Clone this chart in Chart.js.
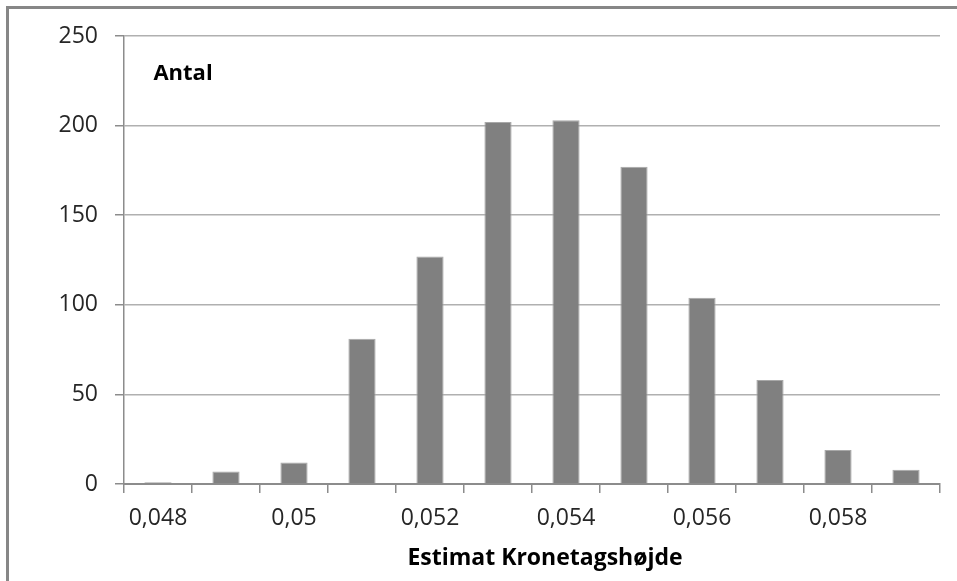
<!DOCTYPE html>
<html>
<head>
<meta charset="utf-8">
<script src="https://cdn.jsdelivr.net/npm/chart.js@4"></script>
<style>
  html, body { margin: 0; padding: 0; background: #ffffff; overflow: hidden; }
  #wrap { position: relative; width: 957px; height: 581px; }
</style>
</head>
<body>
<div id="wrap"><canvas id="c" width="957" height="581"></canvas></div>
<script>
// Data
const categories = ['0,048','0,049','0,05','0,051','0,052','0,053','0,054','0,055','0,056','0,057','0,058','0,059'];
const counts = [1, 7, 12, 81, 127, 202, 203, 177, 104, 58, 19, 8];
const yTicks = [0, 50, 100, 150, 200, 250];
const yAxisLabel = 'Antal';
const xAxisLabel = 'Estimat Kronetagshøjde';

const FONT = '"Open Sans", "Noto Sans", sans-serif';

const decor = {
  id: 'decor',
  beforeDraw(chart) {
    const ctx = chart.ctx;
    ctx.save();
    ctx.fillStyle = '#ffffff';
    ctx.fillRect(0, 0, chart.width, chart.height);
    ctx.strokeStyle = '#878787';
    ctx.lineWidth = 3;
    ctx.strokeRect(7.5, 7.5, 2000, 2000);
    ctx.restore();
  },
  afterDraw(chart) {
    const ctx = chart.ctx;
    const a = chart.chartArea;
    ctx.save();
    ctx.fillStyle = '#000000';
    ctx.textAlign = 'center';
    ctx.textBaseline = 'middle';
    ctx.font = 'bold 22px ' + FONT;
    ctx.fillText(yAxisLabel, a.left + 59, 74);
    ctx.font = 'bold 23px ' + FONT;
    ctx.fillText(xAxisLabel, (a.left + a.right) / 2 + 13, 558);
    ctx.restore();
  }
};

new Chart(document.getElementById('c'), {
  type: 'bar',
  data: {
    labels: categories,
    datasets: [{
      data: counts,
      backgroundColor: '#808080',
      borderColor: '#a8a8a8',
      borderWidth: 1,
      barPercentage: 0.8,
      categoryPercentage: 0.5
    }]
  },
  options: {
    responsive: false,
    animation: false,
    layout: { padding: { left: 0, top: 36, right: 17, bottom: 0 } },
    plugins: { legend: { display: false }, tooltip: { enabled: false }, title: { display: false } },
    scales: {
      x: {
        type: 'category',
        offset: true,
        afterFit(scale) { scale.height = 97; },
        grid: {
          offset: true,
          drawOnChartArea: false,
          drawTicks: true,
          tickLength: 9,
          tickColor: '#8c8c8c',
          lineWidth: 1.5
        },
        border: { display: true, color: '#8c8c8c', width: 2 },
        ticks: {
          autoSkip: false,
          maxRotation: 0,
          minRotation: 0,
          padding: 12,
          color: '#262626',
          font: { family: FONT, size: 23 },
          callback(value, index) { return index % 2 === 0 ? categories[index] : ''; }
        }
      },
      y: {
        min: 0,
        max: 250,
        afterFit(scale) { scale.width = 124; },
        afterBuildTicks(scale) { scale.ticks = yTicks.map(v => ({ value: v })); },
        grid: {
          color: '#b0b0b0',
          lineWidth: 1.5,
          drawTicks: true,
          tickLength: 9,
          tickColor: '#8c8c8c'
        },
        border: { display: true, color: '#8c8c8c', width: 1.5 },
        ticks: {
          padding: 17,
          color: '#262626',
          font: { family: FONT, size: 23 }
        }
      }
    }
  },
  plugins: [decor]
});
</script>
</body>
</html>
